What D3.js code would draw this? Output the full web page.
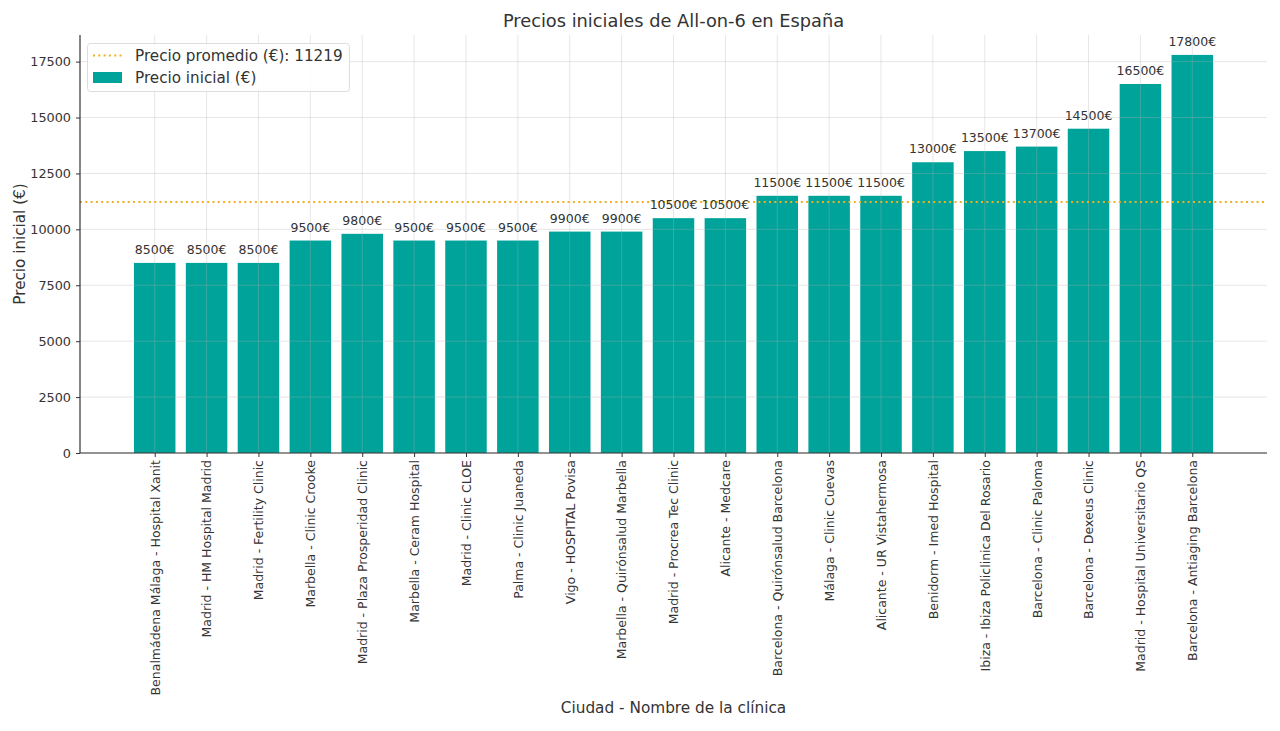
<!DOCTYPE html>
<html><head><meta charset="utf-8">
<script src="https://cdn.jsdelivr.net/npm/d3@7"></script>
<style>body{margin:0;background:#fff;font-family:"DejaVu Sans",sans-serif;}</style>
</head><body><svg id="c" width="1280" height="731"></svg>
<script>
const clinics = ["Benalmádena Málaga - Hospital Xanit","Madrid - HM Hospital Madrid","Madrid - Fertility Clinic","Marbella - Clinic Crooke","Madrid - Plaza Prosperidad Clinic","Marbella - Ceram Hospital","Madrid - Clinic CLOE","Palma - Clinic Juaneda","Vigo - HOSPITAL Povisa","Marbella - Quirónsalud Marbella","Madrid - Procrea Tec Clinic","Alicante - Medcare","Barcelona - Quirónsalud Barcelona","Málaga - Clinic Cuevas","Alicante - UR Vistahermosa","Benidorm - Imed Hospital","Ibiza - Ibiza Policlinica Del Rosario","Barcelona - Clinic Paloma","Barcelona - Dexeus Clinic","Madrid - Hospital Universitario QS","Barcelona - Antiaging Barcelona"];
const prices = [8500,8500,8500,9500,9800,9500,9500,9500,9900,9900,10500,10500,11500,11500,11500,13000,13500,13700,14500,16500,17800];
const averagePrice = 11219;
const yTicks = [0,2500,5000,7500,10000,12500,15000,17500];
const titleText = "Precios iniciales de All-on-6 en España";
const xLabel = "Ciudad - Nombre de la clínica";
const yLabel = "Precio inicial (€)";
const legendLabels = ["Precio promedio (€): 11219","Precio inicial (€)"];

const svg = d3.select("#c");
const L=80,R=1267,T=35,B=453;
const textCol="#333";
const barCol="#00a39a", avgCol="#f2b01e";
const n = prices.length;
const x = d3.scaleLinear().domain([-1.44, n-1+1.44]).range([L,R]);
const y = d3.scaleLinear().domain([0, 17800*1.05]).range([B,T]);
const bw = (x(0.8)-x(0));

// bars
svg.append("g").selectAll("rect").data(prices).join("rect")
  .attr("x",(d,i)=>x(i)-bw/2).attr("width",bw)
  .attr("y",d=>y(d)).attr("height",d=>B-y(d)).attr("fill",barCol);

// grid on top
const grid = svg.append("g").attr("stroke","#b0b0b0").attr("stroke-opacity",0.4).attr("stroke-width",0.8);
yTicks.forEach(t=>grid.append("line").attr("x1",L).attr("x2",R).attr("y1",y(t)).attr("y2",y(t)));
d3.range(n).forEach(i=>grid.append("line").attr("x1",x(i)).attr("x2",x(i)).attr("y1",T).attr("y2",B));

// average line
svg.append("line").attr("x1",L).attr("x2",R).attr("y1",y(averagePrice)).attr("y2",y(averagePrice))
  .attr("stroke",avgCol).attr("stroke-width",2).attr("stroke-dasharray","2,3.3");

// bar labels
svg.append("g").selectAll("text").data(prices).join("text")
  .attr("x",(d,i)=>x(i)).attr("y",d=>y(d)-9).attr("text-anchor","middle")
  .attr("font-size",12.5).attr("fill",textCol).text(d=>d+"€");

// axes
const yAxis = d3.axisLeft(y).tickValues(yTicks).tickSize(4).tickPadding(5).tickFormat(d=>d);
const gy = svg.append("g").attr("transform",`translate(${L},0)`).call(yAxis);
gy.select(".domain").remove();
gy.selectAll("text").attr("font-size",12.8).attr("fill",textCol).attr("font-family","DejaVu Sans");
gy.selectAll("line").attr("stroke","#333");

const xAxis = d3.axisBottom(x).tickValues(d3.range(n)).tickSize(4).tickFormat(i=>clinics[i]);
const gx = svg.append("g").attr("transform",`translate(0,${B})`).call(xAxis);
gx.select(".domain").remove();
gx.selectAll("line").attr("stroke","#333");
gx.selectAll("text").attr("font-size",12.5).attr("fill",textCol).attr("font-family","DejaVu Sans")
  .attr("transform","rotate(-90)").attr("text-anchor","end").attr("x",-7).attr("y",0).attr("dy","0.35em");

// spines
svg.append("line").attr("x1",L).attr("x2",L).attr("y1",T).attr("y2",B).attr("stroke","#333").attr("stroke-width",1.2);
svg.append("line").attr("x1",L).attr("x2",R).attr("y1",B).attr("y2",B).attr("stroke","#333").attr("stroke-width",1.2);

// title & labels
svg.append("text").attr("x",(L+R)/2).attr("y",27).attr("text-anchor","middle").attr("font-size",17.8).attr("fill",textCol).text(titleText);
svg.append("text").attr("x",(L+R)/2).attr("y",713).attr("text-anchor","middle").attr("font-size",15.3).attr("fill",textCol).text(xLabel);
svg.append("text").attr("transform",`translate(25,${(T+B)/2}) rotate(-90)`).attr("text-anchor","middle").attr("font-size",15.2).attr("fill",textCol).text(yLabel);

// legend
const lg = svg.append("g");
lg.append("rect").attr("x",87.5).attr("y",43.5).attr("width",262).attr("height",48).attr("rx",3)
  .attr("fill","#fff").attr("fill-opacity",0.85).attr("stroke","#ddd");
lg.append("line").attr("x1",93).attr("x2",122).attr("y1",55.5).attr("y2",55.5).attr("stroke",avgCol).attr("stroke-width",2).attr("stroke-dasharray","2,3.3");
lg.append("text").attr("x",135).attr("y",61).attr("font-size",15.2).attr("fill",textCol).text(legendLabels[0]);
lg.append("rect").attr("x",93).attr("y",72).attr("width",29).attr("height",11).attr("fill",barCol);
lg.append("text").attr("x",135).attr("y",83).attr("font-size",15.2).attr("fill",textCol).text(legendLabels[1]);
</script></body></html>
